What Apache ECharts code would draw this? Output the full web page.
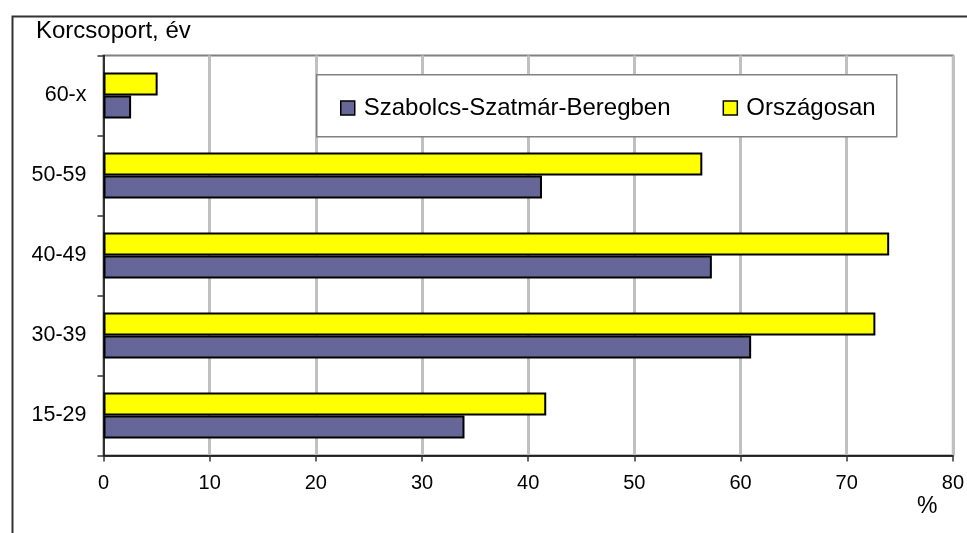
<!DOCTYPE html>
<html>
<head>
<meta charset="utf-8">
<script src="https://cdn.jsdelivr.net/npm/echarts@6/dist/echarts.min.js"></script>
<style>
  html,body{margin:0;padding:0;background:#fff;}
  #chart{width:967px;height:533px;}
</style>
</head>
<body>
<div id="chart"></div>
<script>
// korcsoportok alulról felfelé (kategória tengely alulról indul)
const ageGroups=['15-29','30-39','40-49','50-59','60-x'];
const szabolcs=[34.0,61.0,57.3,41.3,2.6];     // Szabolcs-Szatmár-Beregben, %
const orszagos=[41.7,72.7,74.0,56.4,5.1];     // Országosan, %
const xTicks=[0,10,20,30,40,50,60,70,80];

const FONT='"Liberation Sans", Arial, sans-serif';
const chart=echarts.init(document.getElementById('chart'),null,{renderer:'canvas'});

chart.setOption({
  animation:false,
  backgroundColor:'#fff',
  textStyle:{fontFamily:FONT,color:'#000'},
  grid:{left:103.5,right:11.5,top:55.5,bottom:77.5,show:true,
    borderColor:'#808080',borderWidth:2,backgroundColor:'transparent'},
  legend:{left:335,top:91,itemWidth:14,itemHeight:14,itemGap:52,icon:'rect',
    data:['Szabolcs-Szatmár-Beregben','Országosan'],
    itemStyle:{borderColor:'#000',borderWidth:1.5},
    textStyle:{fontFamily:FONT,fontSize:24,lineHeight:24,color:'#000',padding:[0,0,0,4]},
    selectedMode:false},
  xAxis:{type:'value',min:xTicks[0],max:xTicks[xTicks.length-1],interval:10,
    axisLine:{show:true,lineStyle:{color:'#000',width:1.5}},
    axisTick:{show:true,length:6,lineStyle:{color:'#333',width:1.5}},
    axisLabel:{fontFamily:FONT,fontSize:20,color:'#000',margin:18},
    splitLine:{show:true,lineStyle:{color:'#c0c0c0',width:3}}},
  yAxis:{type:'category',data:ageGroups,
    axisLine:{show:true,lineStyle:{color:'#000',width:1.5}},
    axisTick:{show:true,length:6,lineStyle:{color:'#333',width:1.5}},
    axisLabel:{fontFamily:FONT,fontSize:21.5,color:'#000',margin:17},
    splitLine:{show:false}},
  // az első sorozat kerül felülre a kategórián belül
  series:[
    {name:'Országosan',type:'bar',data:orszagos,
     barGap:'0%',barCategoryGap:'42.5%',
     itemStyle:{color:'#ffff00',borderColor:'#000',borderWidth:2}},
    {name:'Szabolcs-Szatmár-Beregben',type:'bar',data:szabolcs,
     barGap:'0%',barCategoryGap:'42.5%',
     itemStyle:{color:'#666699',borderColor:'#000',borderWidth:2}}
  ],
  graphic:[
    // külső keret (jobb és alsó széle a képen kívül esik)
    {type:'rect',left:10,top:14,z:0,silent:true,
     shape:{width:980,height:540},style:{fill:null,stroke:'#333',lineWidth:2}},
    // jelmagyarázat doboza
    {type:'rect',left:316,top:74,z:3,silent:true,
     shape:{width:580,height:62},style:{fill:'#fff',stroke:'#808080',lineWidth:1.5}},
    {type:'text',left:36,top:19,z:5,silent:true,
     style:{text:'Korcsoport, év',font:'24px '+FONT,fill:'#000'}},
    {type:'text',left:917,top:495,z:5,silent:true,
     style:{text:'%',font:'23px '+FONT,fill:'#000'}}
  ]
});
window.addEventListener('resize',()=>chart.resize());
</script>
</body>
</html>
